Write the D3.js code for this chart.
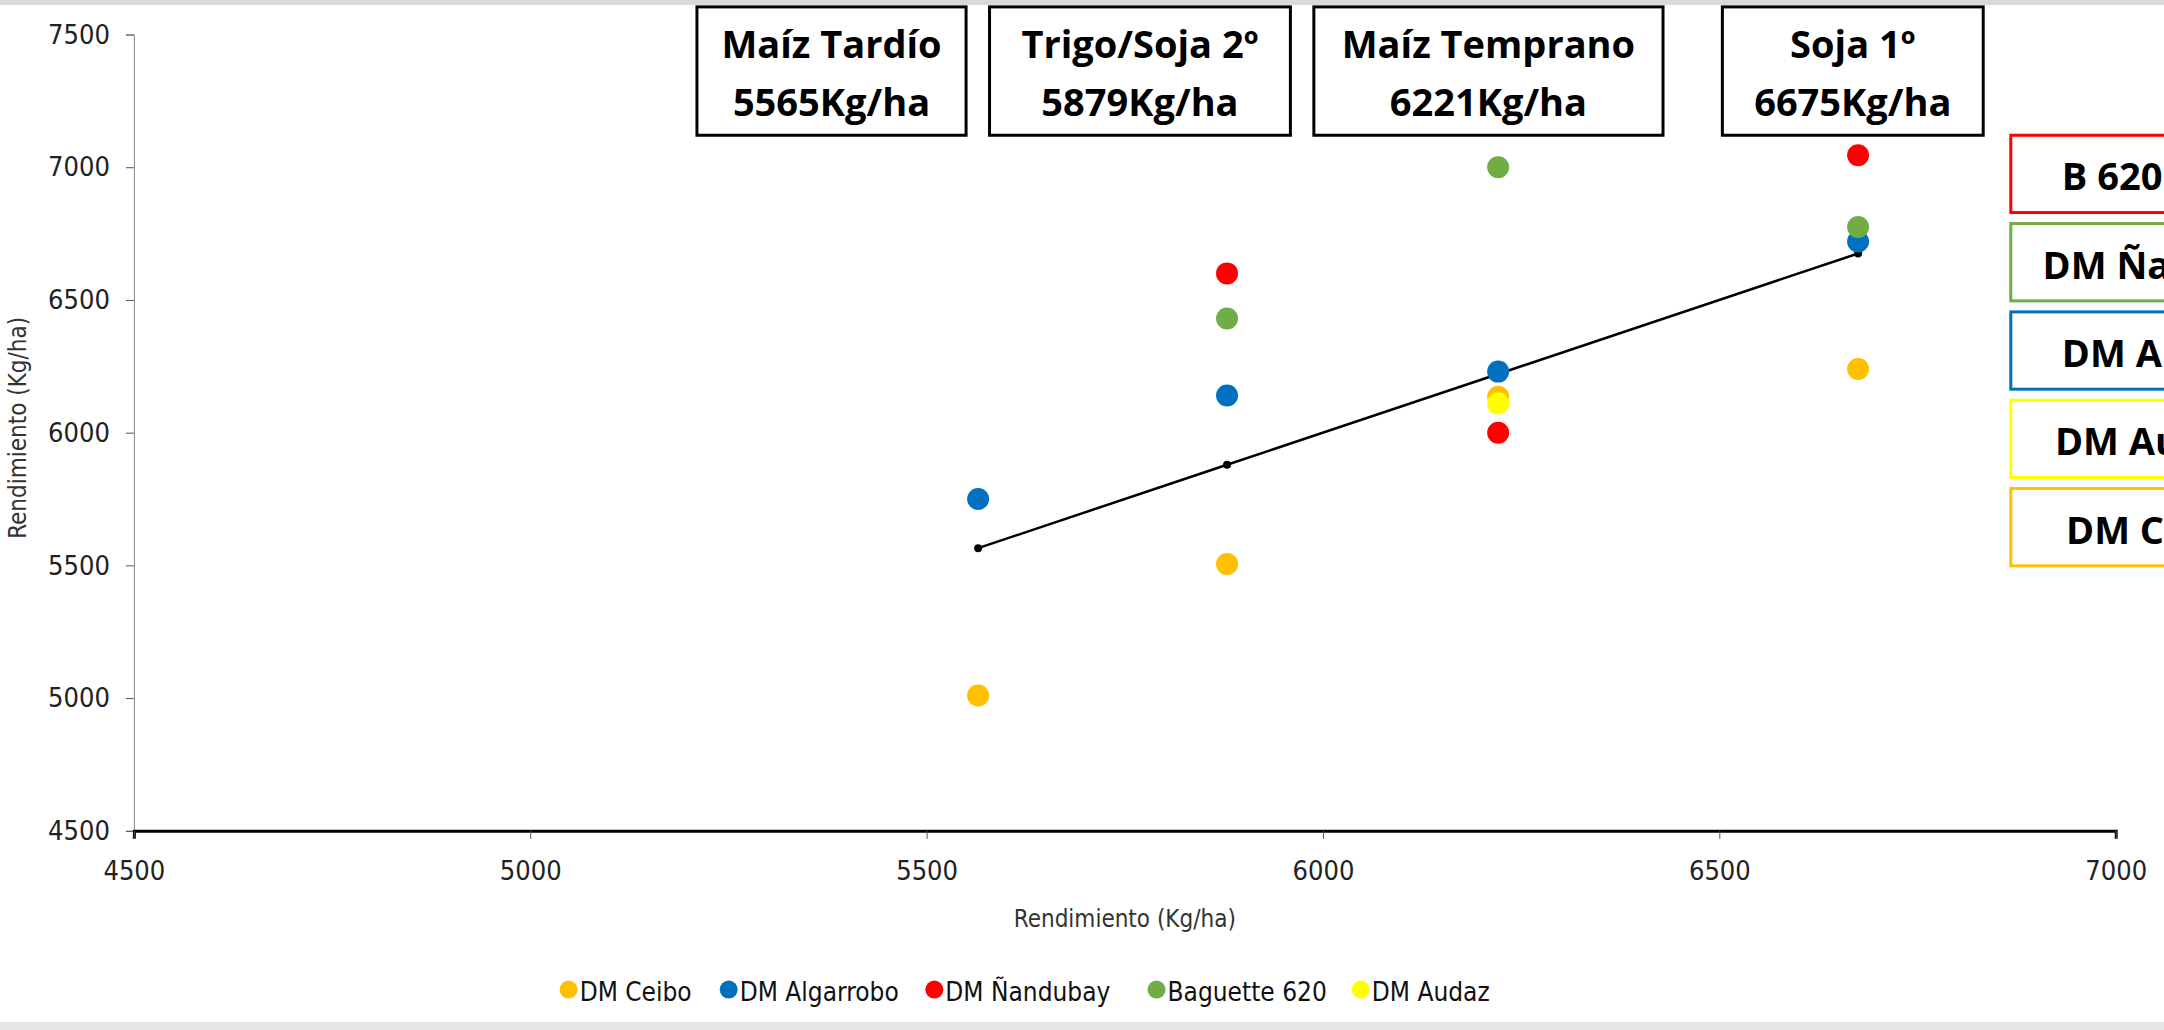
<!DOCTYPE html>
<html><head><meta charset="utf-8">
<script src="https://cdn.jsdelivr.net/npm/d3@7"></script>
<style>body{margin:0;background:#fff}svg{display:block}</style>
</head><body><svg id="c" width="2164" height="1030"></svg>
<script>
const seriesNames=["DM Ceibo","DM Algarrobo","DM Ñandubay","Baguette 620","DM Audaz"];
const seriesColors=["#ffc000","#0070c0","#ff0000","#70ad47","#ffff00"];
const envX=[5565,5879,6221,6675];
const ceibo=[5010,5505,6135,6240];
const algarrobo=[5750,6140,6230,6720];
const nandubay=[null,6600,6000,7045];
const baguette=[null,6430,7000,6775];
const audaz=[null,null,6110,null];
const trend=[5565,5879,6221,6675];
const envLabels=["Maíz Tardío","Trigo/Soja 2º","Maíz Temprano","Soja 1º"];
const envValues=["5565Kg/ha","5879Kg/ha","6221Kg/ha","6675Kg/ha"];
const sideLabels=["B 620","DM Ñandubay","DM Algarrobo","DM Audaz","DM Ceibo"];
const sideColors=["#ff0000","#70ad47","#0070c0","#ffff00","#ffc000"];
const xTicks=[4500,5000,5500,6000,6500,7000];
const yTicks=[4500,5000,5500,6000,6500,7000,7500];

const k=2164/1568;
const svg=d3.select("#c");
svg.append("rect").attr("x",0).attr("y",0).attr("width",2164).attr("height",5).attr("fill","#d9d9d9");
svg.append("rect").attr("x",0).attr("y",1022).attr("width",2164).attr("height",8).attr("fill","#e7e6e6");
const x=d3.scaleLinear().domain([4500,7000]).range([97*k,1533*k]);
const y=d3.scaleLinear().domain([4500,7500]).range([602*k,25*k]);
const font="'Liberation Sans Narrow','DejaVu Sans Condensed',sans-serif";
const fmt=d3.format("d");

const ya=svg.append("g").attr("transform",`translate(${x(4500)},0)`).call(d3.axisLeft(y).tickValues(yTicks).tickFormat(fmt).tickSize(8).tickPadding(16));
ya.select(".domain").attr("stroke","#888");
ya.selectAll("line").attr("stroke","#555");
ya.selectAll("text").attr("font-family",font).attr("font-size",27).attr("fill","#222");
const xa=svg.append("g").attr("transform",`translate(0,${y(4500)})`).call(d3.axisBottom(x).tickValues(xTicks).tickFormat(fmt).tickSize(8).tickPadding(22));
xa.select(".domain").attr("stroke","#000").attr("stroke-width",3);
xa.selectAll("line").attr("stroke","#555");
xa.selectAll("text").attr("font-family",font).attr("font-size",27).attr("fill","#222");

svg.append("text").attr("x",815*k).attr("y",672*k).attr("text-anchor","middle").attr("font-family",font).attr("font-size",24).attr("fill","#333").text("Rendimiento (Kg/ha)");
svg.append("text").attr("transform",`translate(${19*k},${310*k}) rotate(-90)`).attr("text-anchor","middle").attr("font-family",font).attr("font-size",24).attr("fill","#333").text("Rendimiento (Kg/ha)");

const tl=envX.map((v,i)=>[v,trend[i]]);
svg.append("path").attr("d",d3.line().x(d=>x(d[0])).y(d=>y(d[1]))(tl)).attr("fill","none").attr("stroke","#000").attr("stroke-width",2.5);
svg.selectAll(".td").data(tl).join("circle").attr("cx",d=>x(d[0])).attr("cy",d=>y(d[1])).attr("r",4).attr("fill","#000");

const all=[ceibo,algarrobo,nandubay,baguette,audaz];
all.forEach((arr,si)=>{
  const pts=envX.map((v,i)=>[v,arr[i]]).filter(d=>d[1]!=null);
  svg.append("g").selectAll("circle").data(pts).join("circle").attr("cx",d=>x(d[0])).attr("cy",d=>y(d[1])).attr("r",11).attr("fill",seriesColors[si]);
});

const boxX=[[505,700],[717,935],[952,1205],[1248,1437]];
envLabels.forEach((l,i)=>{
  const [a,b]=boxX[i];
  svg.append("rect").attr("x",a*k).attr("y",5*k).attr("width",(b-a)*k).attr("height",93*k).attr("fill","#fff").attr("stroke","#000").attr("stroke-width",3);
  const t=svg.append("text").attr("text-anchor","middle").attr("font-family","'Open Sans',sans-serif").attr("font-weight","bold").attr("font-size",38).attr("fill","#000");
  t.append("tspan").attr("x",(a+b)/2*k).attr("y",42*k).text(l);
  t.append("tspan").attr("x",(a+b)/2*k).attr("y",84*k).text(envValues[i]);
});
const sideTx=[1494,1480,1494,1489,1497];
sideLabels.forEach((l,i)=>{
  const top=98+i*64;
  svg.append("rect").attr("x",1457*k).attr("y",top*k).attr("width",300).attr("height",56*k).attr("fill","#fff").attr("stroke",sideColors[i]).attr("stroke-width",3);
  svg.append("text").attr("x",sideTx[i]*k).attr("y",(top+40)*k).attr("font-family","'Open Sans',sans-serif").attr("font-weight","bold").attr("font-size",38).attr("fill","#000").text(l);
});

const legX=[402,518,667,828,976];
seriesNames.forEach((n,i)=>{
  svg.append("circle").attr("cx",(legX[i]+10)*k).attr("cy",717*k).attr("r",9).attr("fill",seriesColors[i]);
  svg.append("text").attr("x",(legX[i]+18)*k).attr("y",725*k).attr("font-family",font).attr("font-size",26).attr("fill","#111").text(n);
});
</script></body></html>
